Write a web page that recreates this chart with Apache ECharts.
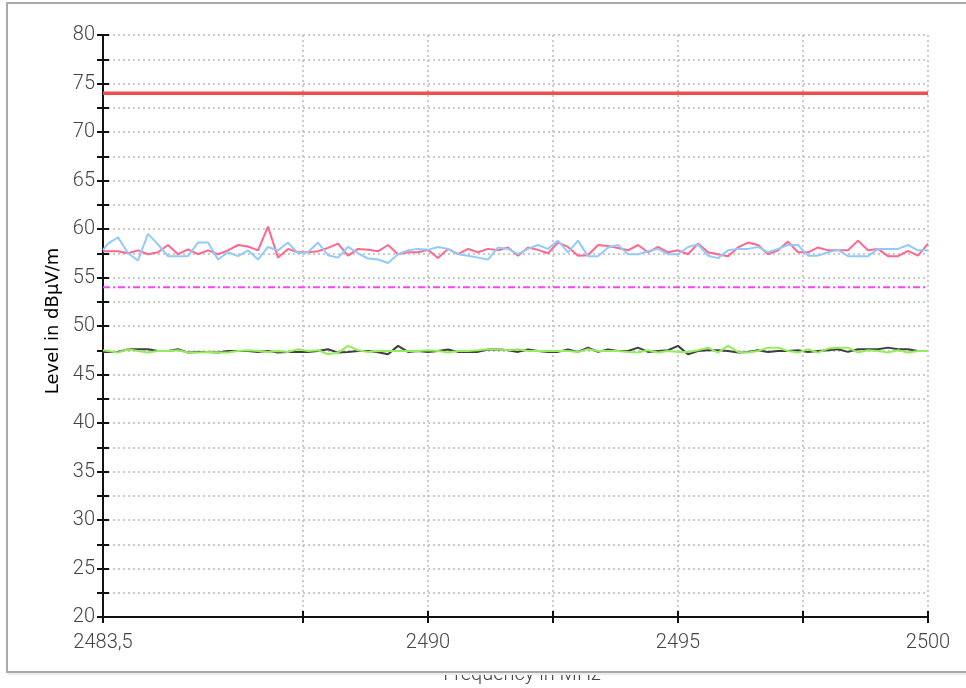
<!DOCTYPE html>
<html>
<head>
<meta charset="utf-8">
<script src="https://cdn.jsdelivr.net/npm/echarts@6/dist/echarts.min.js"></script>
<style>
html,body{margin:0;padding:0;background:#fff;overflow:hidden;}
#chart{width:966px;height:688px;}
</style>
</head>
<body>
<div id="chart"></div>
<script>
const freq = [2483.5, 2483.6, 2483.8, 2484.0, 2484.2, 2484.4, 2484.6, 2484.8, 2485.0, 2485.2, 2485.4, 2485.6, 2485.8, 2486.0, 2486.2, 2486.4, 2486.6, 2486.8, 2487.0, 2487.2, 2487.4, 2487.6, 2487.8, 2488.0, 2488.2, 2488.4, 2488.6, 2488.8, 2489.0, 2489.2, 2489.4, 2489.6, 2489.8, 2490.0, 2490.2, 2490.4, 2490.6, 2490.8, 2491.0, 2491.2, 2491.4, 2491.6, 2491.8, 2492.0, 2492.2, 2492.4, 2492.6, 2492.8, 2493.0, 2493.2, 2493.4, 2493.6, 2493.8, 2494.0, 2494.2, 2494.4, 2494.6, 2494.8, 2495.0, 2495.2, 2495.4, 2495.6, 2495.8, 2496.0, 2496.2, 2496.4, 2496.6, 2496.8, 2497.0, 2497.2, 2497.4, 2497.6, 2497.8, 2498.0, 2498.2, 2498.4, 2498.6, 2498.8, 2499.0, 2499.2, 2499.4, 2499.6, 2499.8, 2500.0];

const peakHorizontal = [57.7,
  57.7, 57.7, 57.5, 57.8, 57.4, 57.6, 58.35, 57.4, 57.9, 57.4, 57.8, 57.4, 57.8, 58.35, 58.2, 57.8, 60.25, 57.05, 57.95, 57.6, 57.6, 57.7, 58.05, 58.5, 57.25, 57.95, 57.85, 57.7,
  58.35, 57.4, 57.6, 57.6, 57.85, 57.0, 57.95, 57.4, 57.95, 57.6, 57.95, 57.8, 58.1, 57.25, 58.1, 57.85, 57.5, 58.6, 58.15, 57.25, 57.3, 58.35, 58.25, 58.05, 57.8, 58.35, 57.6,
  58.15, 57.6, 57.8, 57.4, 58.5, 57.6, 57.4, 57.2, 58.1, 58.6, 58.35, 57.4, 57.8, 58.7, 57.6, 57.6, 58.1, 57.8, 57.8, 57.8, 58.8, 57.8, 57.95, 57.2, 57.2, 57.75, 57.25, 58.5];

const peakVertical = [57.85,
  58.5, 59.15, 57.5, 56.75, 59.5, 58.4, 57.2, 57.2, 57.2, 58.6, 58.6, 56.85, 57.6, 57.2, 57.8, 56.85, 58.15, 57.8, 58.6, 57.5, 57.6, 58.6, 57.3, 57.05, 58.15, 57.5, 56.95, 56.85,
  56.5, 57.4, 57.8, 57.95, 57.85, 58.15, 57.95, 57.4, 57.25, 57.05, 56.85, 58.1, 57.95, 57.4, 57.95, 58.35, 57.95, 58.8, 57.6, 58.8, 57.2, 57.2, 58.1, 58.35, 57.4, 57.4, 57.7,
  57.95, 57.4, 57.4, 58.15, 58.4, 57.25, 57.0, 57.8, 57.95, 57.95, 58.15, 57.6, 57.95, 58.35, 58.35, 57.25, 57.25, 57.6, 57.85, 57.2, 57.2, 57.2, 57.95, 57.95, 57.95, 58.35, 57.8, 57.8];

const avgHorizontal = [47.33,
  47.33, 47.33, 47.6, 47.6, 47.6, 47.43, 47.43, 47.6, 47.26, 47.33, 47.33, 47.26, 47.43, 47.43, 47.43, 47.33, 47.43, 47.26, 47.33, 47.33, 47.33, 47.43, 47.6, 47.26, 47.33, 47.43, 47.43, 47.3,
  47.09, 47.95, 47.33, 47.43, 47.33, 47.43, 47.57, 47.33, 47.33, 47.33, 47.57, 47.6, 47.5, 47.33, 47.57, 47.43, 47.33, 47.33, 47.57, 47.33, 47.77, 47.33, 47.57, 47.43, 47.43, 47.77, 47.33,
  47.43, 47.5, 47.95, 47.09, 47.43, 47.5, 47.5, 47.43, 47.26, 47.33, 47.5, 47.33, 47.43, 47.43, 47.5, 47.33, 47.43, 47.5, 47.6, 47.33, 47.6, 47.6, 47.6, 47.77, 47.6, 47.6, 47.43, 47.43];

const avgVertical = [47.5,
  47.43, 47.26, 47.6, 47.43, 47.26, 47.43, 47.43, 47.5, 47.26, 47.26, 47.33, 47.26, 47.26, 47.43, 47.5, 47.43, 47.33, 47.43, 47.33, 47.6, 47.43, 47.5, 47.09, 47.26, 47.95, 47.5, 47.33, 47.43,
  47.43, 47.43, 47.43, 47.43, 47.5, 47.43, 47.26, 47.43, 47.43, 47.5, 47.6, 47.6, 47.5, 47.6, 47.43, 47.43, 47.43, 47.43, 47.43, 47.33, 47.6, 47.43, 47.43, 47.43, 47.33, 47.26, 47.5,
  47.26, 47.43, 47.33, 47.33, 47.5, 47.77, 47.26, 47.95, 47.33, 47.26, 47.43, 47.77, 47.77, 47.43, 47.26, 47.6, 47.26, 47.67, 47.77, 47.77, 47.26, 47.5, 47.43, 47.26, 47.5, 47.26, 47.43, 47.43];

const limitFreq = [2483.5, 2500];
const peakLimit = [74, 74];
const avgLimit = [54, 54];

const xTickValues = [2483.5, 2487.5, 2490, 2492.5, 2495, 2497.5, 2500];
const xLabelValues = [2483.5, 2490, 2495, 2500];
const yMin = 20, yMax = 80, yStep = 2.5;
const xTitle = 'Frequency in MHz';
const yTitle = 'Level in dBµV/m';

function pairs(xs, ys) { return xs.map((x, i) => [x, ys[i]]); }

const tickFont = { fontFamily: 'Roboto', fontWeight: 300, fontSize: 20, color: '#444' };

const chart = echarts.init(document.getElementById('chart'), null, { renderer: 'canvas', width: 966, height: 688 });
chart.setOption({
  animation: false,
  backgroundColor: '#fff',
  grid: { left: 103, right: 38, top: 35, bottom: 71, containLabel: false },
  xAxis: [{
    type: 'value', min: 2483.5, max: 2500,
    axisLine: { show: true, onZero: false, lineStyle: { color: '#111', width: 2 } },
    axisTick: { show: true, customValues: xTickValues, length: 6, lineStyle: { color: '#111', width: 2 } },
    axisLabel: Object.assign({ customValues: xLabelValues, margin: 16,
      formatter: v => String(v).replace('.', ',') }, tickFont),
    splitLine: { show: true, lineStyle: { color: '#bbb', type: [2, 3], width: 1.5 } }
  }, {
    type: 'value', min: 2483.5, max: 2500, position: 'bottom',
    axisLine: { show: false, onZero: false },
    axisTick: { show: true, inside: true, customValues: xTickValues, length: 6, lineStyle: { color: '#111', width: 2 } },
    axisLabel: { show: false },
    splitLine: { show: false }
  }],
  yAxis: [{
    type: 'value', min: yMin, max: yMax, interval: yStep,
    axisLine: { show: true, onZero: false, lineStyle: { color: '#111', width: 2 } },
    axisTick: { show: true, length: 6, lineStyle: { color: '#111', width: 2 } },
    axisLabel: Object.assign({ margin: 8, formatter: v => (v % 5 === 0 ? String(v) : '') }, tickFont),
    splitLine: { show: true, lineStyle: { color: '#bbb', type: [2, 3], width: 1.5 } }
  }, {
    type: 'value', min: yMin, max: yMax, interval: yStep, position: 'left',
    axisLine: { show: false, onZero: false },
    axisTick: { show: true, inside: true, length: 6, lineStyle: { color: '#111', width: 2 } },
    axisLabel: { show: false },
    splitLine: { show: false }
  }],
  series: [
    { name: 'Peak limit', type: 'line', data: pairs(limitFreq, peakLimit), symbol: 'none',
      lineStyle: { color: '#f54d4d', width: 3.5 }, z: 3 },
    { name: 'Average limit', type: 'line', data: pairs(limitFreq, avgLimit), symbol: 'none',
      lineStyle: { color: '#ff40ff', width: 2, type: [7, 3, 2, 3] }, z: 3 },
    { name: 'Peak H', type: 'line', data: pairs(freq, peakHorizontal), symbol: 'none',
      lineStyle: { color: '#ff6690', width: 2 }, z: 4 },
    { name: 'Peak V', type: 'line', data: pairs(freq, peakVertical), symbol: 'none',
      lineStyle: { color: '#92cbf9', width: 2 }, z: 5 },
    { name: 'Average H', type: 'line', data: pairs(freq, avgHorizontal), symbol: 'none',
      lineStyle: { color: '#3f3f3f', width: 2 }, z: 4 },
    { name: 'Average V', type: 'line', data: pairs(freq, avgVertical), symbol: 'none',
      lineStyle: { color: '#94ee5c', width: 2 }, z: 5 }
  ],
  graphic: [
    { type: 'text', z: 98, x: 522, y: 675,
      style: { text: xTitle, align: 'center', verticalAlign: 'middle',
        font: '300 20px Roboto', fill: '#444' } },
    { type: 'text', z: 98, x: 53, y: 321, rotation: Math.PI / 2,
      style: { text: yTitle, align: 'center', verticalAlign: 'middle',
        font: '18px "DejaVu Sans"', fill: '#000' } },
    { type: 'rect', z: 100, shape: { x: 300, y: 658, width: 460, height: 13 }, style: { fill: '#fff' } },
    { type: 'rect', z: 101, shape: { x: 7, y: 3, width: 980, height: 669 },
      style: { fill: 'none', stroke: '#aaa', lineWidth: 2 } },
    { type: 'rect', z: 99, shape: { x: 8, y: 673, width: 980, height: 2 }, style: { fill: '#ececec' } }
  ]
});
</script>
</body>
</html>
